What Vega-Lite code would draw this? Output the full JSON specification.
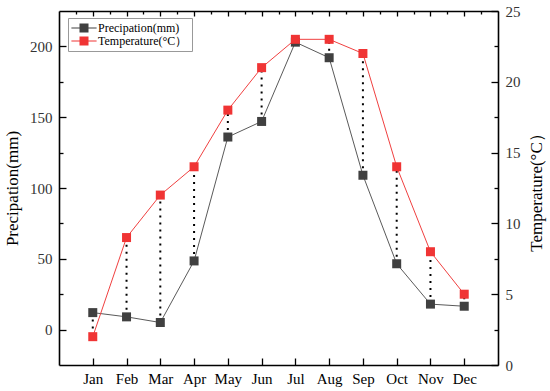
{
  "$schema": "https://vega.github.io/schema/vega-lite/v6.json",
  "width": 439,
  "height": 354,
  "autosize": {"type": "none"},
  "padding": {"left": 59, "top": 11, "right": 52, "bottom": 26},
  "background": "white",
  "config": {
    "view": {"stroke": null},
    "font": "Liberation Serif",
    "axis": {
      "grid": false,
      "domainColor": "#000",
      "domainWidth": 1.6,
      "tickColor": "#000",
      "tickWidth": 1.3,
      "labelFont": "Liberation Serif",
      "labelFontSize": 15,
      "labelColor": "#333",
      "titleFont": "Liberation Serif",
      "titleFontSize": 17,
      "titleFontWeight": "normal",
      "titleColor": "#000"
    },
    "legend": {"labelFont": "Liberation Serif"}
  },
  "data": {
    "values": [
      {"month": "Jan", "m": 1, "precip": 12, "temp": 2},
      {"month": "Feb", "m": 2, "precip": 9, "temp": 9},
      {"month": "Mar", "m": 3, "precip": 5, "temp": 12},
      {"month": "Apr", "m": 4, "precip": 48.5, "temp": 14},
      {"month": "May", "m": 5, "precip": 136, "temp": 18},
      {"month": "Jun", "m": 6, "precip": 147, "temp": 21},
      {"month": "Jul", "m": 7, "precip": 203, "temp": 23},
      {"month": "Aug", "m": 8, "precip": 192, "temp": 23},
      {"month": "Sep", "m": 9, "precip": 109, "temp": 22},
      {"month": "Oct", "m": 10, "precip": 46.5, "temp": 14},
      {"month": "Nov", "m": 11, "precip": 18, "temp": 8},
      {"month": "Dec", "m": 12, "precip": 16.5, "temp": 5}
    ]
  },
  "layer": [
    {
      "encoding": {
        "x": {
          "field": "m", "type": "quantitative",
          "scale": {"domain": [0, 13], "nice": false, "zero": false},
          "axis": {
            "orient": "bottom", "title": null,
            "values": [1,2,3,4,5,6,7,8,9,10,11,12],
            "labelExpr": "['','Jan','Feb','Mar','Apr','May','Jun','Jul','Aug','Sep','Oct','Nov','Dec'][datum.value]",
            "tickSize": -7,
            "labelPadding": 13,
            "labelColor": "#000"
          }
        },
        "y": {
          "field": "precip", "type": "quantitative",
          "scale": {"domain": [-25, 225], "nice": false, "zero": false},
          "axis": {
            "orient": "left",
            "title": "Precipation(mm)",
            "values": [0,25,50,75,100,125,150,175,200],
            "labelExpr": "datum.value % 50 == 0 ? datum.label : ''",
            "tickSize": {"condition": {"test": "datum.value % 50 != 0", "value": -4}, "value": -7},
            "labelPadding": 14,
            "titlePadding": 8
          }
        }
      },
      "layer": [
        {
          "mark": {"type": "line", "color": "#5a5a5a", "strokeWidth": 1}
        },
        {
          "transform": [{"calculate": "datum.temp * 10 - 25", "as": "tempOnPrecipAxis"}],
          "mark": {"type": "rule", "color": "#000", "strokeWidth": 2, "strokeDash": [2, 5]},
          "encoding": {
            "y2": {"field": "tempOnPrecipAxis"}
          }
        },
        {
          "mark": {"type": "point", "shape": "square", "filled": true, "size": 81, "opacity": 1},
          "encoding": {
            "color": {
              "datum": "Precipation(mm)",
              "scale": {"domain": ["Precipation(mm)", "Temperature(°C）"], "range": ["#404040", "#f03434"]},
              "legend": {
                "orient": "none",
                "legendX": 9,
                "legendY": 7,
                "title": null,
                "symbolType": "M-2.8,-0.1H-1V0.1H-2.8Z M1,-0.1H2.8V0.1H1Z M-1,-1H1V1H-1Z",
                "symbolSize": 81,
                "symbolOffset": 6,
                "labelOffset": 8,
                "labelFont": "Liberation Serif",
                "labelFontSize": 12,
                "labelColor": "#000",
                "strokeColor": "#999",
                "fillColor": "white",
                "padding": 4,
                "rowPadding": 1
              }
            }
          }
        }
      ]
    },
    {
      "encoding": {
        "x": {
          "field": "m", "type": "quantitative",
          "axis": {
            "orient": "top", "title": null, "labels": false,
            "values": [0.5,1,1.5,2,2.5,3,3.5,4,4.5,5,5.5,6,6.5,7,7.5,8,8.5,9,9.5,10,10.5,11,11.5,12,12.5],
            "tickSize": {"condition": {"test": "datum.value % 1 != 0", "value": -3}, "value": -5}
          }
        },
        "y": {
          "field": "temp", "type": "quantitative",
          "scale": {"domain": [0, 25], "nice": false, "zero": false},
          "axis": {
            "orient": "right",
            "title": "Temperature(°C）",
            "titleAngle": 270,
            "values": [0,2.5,5,7.5,10,12.5,15,17.5,20,22.5,25],
            "labelExpr": "datum.value % 5 == 0 ? datum.label : ''",
            "tickSize": {"condition": {"test": "datum.value % 5 != 0", "value": -4}, "value": -7},
            "labelPadding": 14,
            "titlePadding": 25
          }
        }
      },
      "layer": [
        {
          "mark": {"type": "line", "color": "#f04040", "strokeWidth": 1}
        },
        {
          "mark": {"type": "point", "shape": "square", "filled": true, "size": 81, "opacity": 1},
          "encoding": {
            "color": {"datum": "Temperature(°C）"}
          }
        }
      ]
    }
  ],
  "resolve": {"scale": {"y": "independent"}, "axis": {"x": "independent"}}
}
